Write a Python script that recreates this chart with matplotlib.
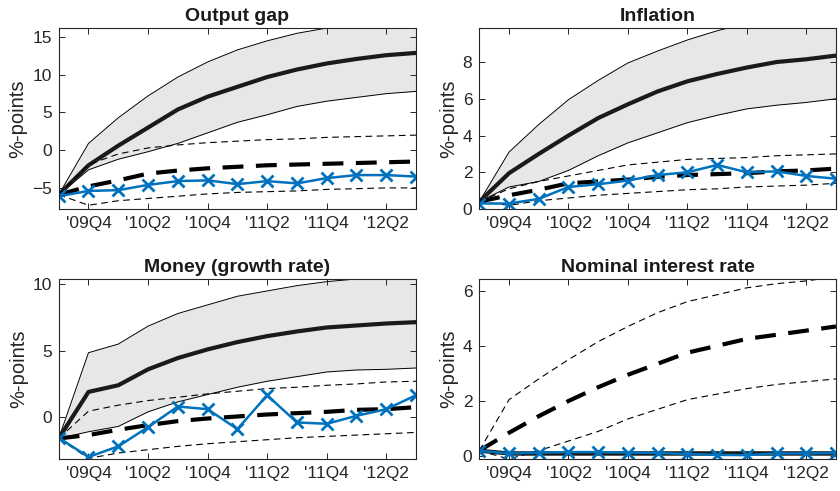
import numpy as np
import matplotlib.pyplot as plt

# quarters 09Q3 .. 12Q3
quarters = np.arange(13)
tick_pos = [1, 3, 5, 7, 9, 11]
tick_labels = ["'09Q4", "'10Q2", "'10Q4", "'11Q2", "'11Q4", "'12Q2"]

# ---- Output gap
gap_mean = [-5.9, -2.0, 0.6, 3.0, 5.4, 7.1, 8.4, 9.7, 10.7, 11.5, 12.1, 12.6, 12.9]
gap_hi = [-5.9, 0.9, 4.3, 7.2, 9.7, 11.7, 13.3, 14.5, 15.5, 16.2, 16.8, 17.3, 17.7]
gap_lo = [-5.9, -2.6, -1.2, -0.2, 0.9, 2.3, 3.7, 4.7, 5.8, 6.5, 7.0, 7.5, 7.8]
gap_dhi = [-5.9, -1.9, -0.5, 0.3, 0.7, 1.0, 1.2, 1.4, 1.5, 1.7, 1.8, 1.9, 2.0]
gap_dmed = [-5.9, -4.8, -4.0, -3.1, -2.7, -2.4, -2.2, -2.0, -1.9, -1.8, -1.7, -1.6, -1.5]
gap_dlo = [-5.9, -7.3, -6.7, -6.4, -6.1, -5.8, -5.6, -5.5, -5.4, -5.2, -5.1, -5.0, -5.0]
gap_data = [-6.1, -5.4, -5.3, -4.6, -4.1, -4.0, -4.5, -4.1, -4.4, -3.7, -3.3, -3.3, -3.5]

# ---- Inflation
inf_mean = [0.4, 1.95, 3.0, 4.0, 4.95, 5.7, 6.4, 6.95, 7.35, 7.7, 8.0, 8.15, 8.35]
inf_hi = [0.4, 3.1, 4.6, 5.95, 7.0, 7.95, 8.6, 9.2, 9.7, 10.1, 10.4, 10.6, 10.8]
inf_lo = [0.4, 1.2, 1.5, 2.1, 2.9, 3.6, 4.15, 4.7, 5.1, 5.45, 5.65, 5.8, 6.0]
inf_dhi = [0.4, 1.1, 1.5, 1.8, 2.1, 2.4, 2.55, 2.7, 2.75, 2.8, 2.9, 2.95, 3.0]
inf_dmed = [0.4, 0.75, 1.05, 1.4, 1.5, 1.6, 1.75, 1.85, 1.9, 1.95, 2.05, 2.1, 2.2]
inf_dlo = [0.4, 0.2, 0.45, 0.6, 0.75, 0.85, 0.95, 1.05, 1.1, 1.2, 1.25, 1.3, 1.4]
inf_data = [0.3, 0.3, 0.55, 1.2, 1.35, 1.55, 1.85, 2.0, 2.4, 2.0, 2.05, 1.8, 1.65]

# ---- Money growth
mon_mean = [-1.6, 1.9, 2.4, 3.6, 4.45, 5.1, 5.65, 6.1, 6.45, 6.75, 6.9, 7.05, 7.15]
mon_hi = [-1.6, 4.85, 5.5, 6.85, 7.8, 8.45, 9.1, 9.5, 9.9, 10.2, 10.4, 10.6, 10.7]
mon_lo = [-1.6, -1.1, -0.7, 0.4, 1.15, 1.7, 2.25, 2.7, 3.05, 3.4, 3.55, 3.6, 3.7]
mon_dhi = [-1.6, 0.45, 0.9, 1.25, 1.5, 1.75, 1.95, 2.15, 2.25, 2.4, 2.5, 2.65, 2.7]
mon_dmed = [-1.6, -1.35, -0.95, -0.6, -0.3, -0.1, 0.05, 0.2, 0.3, 0.4, 0.55, 0.6, 0.75]
mon_dlo = [-1.6, -3.1, -2.7, -2.45, -2.2, -2.0, -1.85, -1.7, -1.55, -1.45, -1.35, -1.25, -1.15]
mon_data = [-1.55, -3.0, -2.2, -0.75, 0.8, 0.6, -0.9, 1.65, -0.4, -0.5, 0.1, 0.6, 1.65]

# ---- Nominal interest rate
int_mean = [0.2, 0.1, 0.1, 0.1, 0.1, 0.1, 0.1, 0.1, 0.1, 0.1, 0.1, 0.1, 0.1]
int_hi = [0.2, 0.15, 0.15, 0.15, 0.15, 0.15, 0.15, 0.15, 0.15, 0.15, 0.15, 0.15, 0.15]
int_lo = [0.2, 0.05, 0.05, 0.05, 0.05, 0.05, 0.05, 0.05, 0.05, 0.05, 0.05, 0.05, 0.05]
int_dhi = [0.2, 2.05, 2.8, 3.5, 4.15, 4.7, 5.2, 5.6, 5.85, 6.1, 6.25, 6.35, 6.5]
int_dmed = [0.2, 0.85, 1.45, 2.0, 2.5, 2.95, 3.35, 3.75, 4.0, 4.25, 4.4, 4.55, 4.7]
int_dlo = [0.2, -0.1, 0.2, 0.55, 0.9, 1.35, 1.7, 2.05, 2.25, 2.45, 2.6, 2.7, 2.8]
int_data = [0.2, 0.1, 0.13, 0.15, 0.15, 0.13, 0.12, 0.08, 0.05, 0.04, 0.1, 0.1, 0.12]

plt.rcParams['font.family'] = ['Liberation Sans', 'DejaVu Sans']
fig = plt.figure(figsize=(8.4, 4.91), dpi=100)

panels = [
    ("Output gap", [0.0699, 0.5743, 0.4254, 0.3686], (-7.8, 16.2), [-5, 0, 5, 10, 15],
     gap_mean, gap_hi, gap_lo, gap_dhi, gap_dmed, gap_dlo, gap_data),
    ("Inflation", [0.5706, 0.5743, 0.4246, 0.3686], (0, 9.85), [0, 2, 4, 6, 8],
     inf_mean, inf_hi, inf_lo, inf_dhi, inf_dmed, inf_dlo, inf_data),
    ("Money (growth rate)", [0.0699, 0.0652, 0.4254, 0.3666], (-3.15, 10.4), [0, 5, 10],
     mon_mean, mon_hi, mon_lo, mon_dhi, mon_dmed, mon_dlo, mon_data),
    ("Nominal interest rate", [0.5706, 0.0652, 0.4246, 0.3666], (-0.1, 6.42), [0, 2, 4, 6],
     int_mean, int_hi, int_lo, int_dhi, int_dmed, int_dlo, int_data),
]

for title, rect, ylim, yticks, mean, hi, lo, dhi, dmed, dlo, data in panels:
    ax = fig.add_axes(rect)
    ax.fill_between(quarters, lo, hi, color='#e6e7e7', lw=0)
    ax.plot(quarters, hi, color='black', lw=0.7)
    ax.plot(quarters, lo, color='black', lw=0.7)
    ax.plot(quarters, mean, color='#1a1a1a', lw=3)
    ax.plot(quarters, dhi, color='black', lw=0.8, dashes=(6, 4))
    ax.plot(quarters, dlo, color='black', lw=0.8, dashes=(6, 4))
    ax.plot(quarters, dmed, color='black', lw=3, dashes=(5, 3))
    ax.plot(quarters, data, color='#0072BD', lw=1.8, marker='x', ms=8, mew=2)
    ax.set_xlim(0, 12)
    ax.set_ylim(*ylim)
    ax.set_xticks(tick_pos)
    ax.set_xticklabels(tick_labels)
    ax.set_yticks(yticks)
    ax.tick_params(direction='in', top=True, right=True, labelsize=12.5,
                   length=4, width=0.7, colors='#262626', pad=5)
    for s in ax.spines.values():
        s.set_linewidth(0.8)
        s.set_color('#262626')
    ax.set_ylabel('%-points', fontsize=14.5, color='#262626', labelpad=3)
    ax.set_title(title, fontsize=14, fontweight='bold', color='#1a1a1a', pad=5)

plt.savefig('out.png', dpi=100)
